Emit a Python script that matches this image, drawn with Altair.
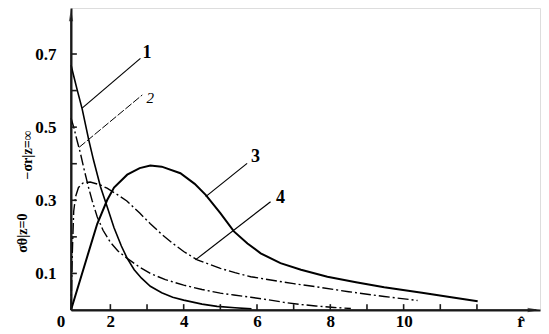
import altair as alt
import pandas as pd

# ---- data ----
r1 = [0.926, 1.0, 1.1, 1.23, 1.41, 1.54, 1.73, 1.91, 2.1, 2.3, 2.46, 2.65, 2.85, 3.09, 3.4, 3.7, 4.0, 4.5, 4.91, 5.4, 5.85]
s1 = [0.67, 0.64, 0.60, 0.55, 0.465, 0.41, 0.337, 0.283, 0.225, 0.175, 0.141, 0.11, 0.087, 0.065, 0.047, 0.035, 0.027, 0.016, 0.010, 0.006, 0.003]

r2 = [0.926, 1.0, 1.1, 1.18, 1.27, 1.4, 1.5, 1.64, 1.8, 2.0, 2.2, 2.46, 2.8, 3.09, 3.5, 4.0, 4.5, 5.0, 5.37, 5.83, 6.3, 6.73, 7.2, 7.6, 8.1, 8.56]
s2 = [0.525, 0.50, 0.46, 0.43, 0.39, 0.337, 0.30, 0.255, 0.218, 0.185, 0.162, 0.141, 0.117, 0.10, 0.083, 0.068, 0.056, 0.046, 0.041, 0.035, 0.028, 0.021, 0.015, 0.011, 0.007, 0.004]

r3 = [0.926, 1.32, 1.64, 1.91, 2.1, 2.46, 2.8, 3.09, 3.4, 3.91, 4.3, 4.6, 5.0, 5.37, 5.74, 6.1, 6.64, 7.2, 7.92, 8.7, 9.47, 10.5, 11.3, 12.02]
s3 = [0.0, 0.13, 0.235, 0.30, 0.335, 0.37, 0.388, 0.395, 0.392, 0.374, 0.345, 0.315, 0.265, 0.215, 0.182, 0.155, 0.128, 0.11, 0.091, 0.076, 0.062, 0.047, 0.035, 0.024]

r4 = [0.926, 0.96, 1.0, 1.05, 1.13, 1.25, 1.45, 1.7, 1.91, 2.2, 2.45, 2.8, 3.09, 3.4, 3.73, 4.0, 4.37, 5.0, 5.4, 5.83, 6.5, 7.0, 7.65, 8.5, 9.47, 10.38]
s4 = [0.0, 0.15, 0.27, 0.31, 0.335, 0.347, 0.35, 0.343, 0.333, 0.315, 0.298, 0.265, 0.236, 0.207, 0.18, 0.16, 0.137, 0.114, 0.102, 0.091, 0.080, 0.072, 0.063, 0.05, 0.037, 0.026]

x_tick_labels = [2, 4, 6, 8, 10]
x_minor_ticks = [2, 3, 4, 5, 6, 7, 8, 9, 10, 11, 12]
y_tick_labels = [0.1, 0.3, 0.5, 0.7]
y_minor_ticks = [0.1, 0.2, 0.3, 0.4, 0.5, 0.6, 0.7]

curve_names = ["1", "2", "3", "4"]
label_x = [3.00, 3.09, 5.96, 6.64]
label_y = [0.703, 0.58, 0.418, 0.306]
lead_x = [1.23, 1.15, 4.60, 4.32]
lead_y = [0.552, 0.445, 0.31, 0.137]
lead_x2 = [2.82, 2.87, 5.73, 6.37]
lead_y2 = [0.688, 0.588, 0.401, 0.296]

X0, XMAX, YMAX = 0.926, 13.72, 0.8258
SERIF = "Liberation Serif"
INK = "#1a1a1a"

xscale = alt.Scale(domain=[X0, XMAX], nice=False, zero=False)
yscale = alt.Scale(domain=[0, YMAX], nice=False, zero=False)
X = alt.X("x:Q", scale=xscale,
          axis=alt.Axis(values=x_tick_labels, domain=True, domainColor=INK, domainWidth=1.8,
                        ticks=False, grid=False, title=None,
                        labelFont=SERIF, labelFontSize=17, labelFontWeight="bold", labelColor="black",
                        labelPadding=3, labelFlush=False, labelOverlap=False))
Y = alt.Y("y:Q", scale=yscale,
          axis=alt.Axis(values=y_tick_labels, format=".1f", domain=True, domainColor=INK, domainWidth=2,
                        ticks=False, grid=False, title=None,
                        labelFont=SERIF, labelFontSize=17, labelFontWeight="bold", labelColor="black",
                        labelPadding=15, labelOverlap=False))


def curve(xs, ys, width, dash=None):
    df = pd.DataFrame({"x": xs, "y": ys})
    if dash:
        return alt.Chart(df).mark_line(color="black", strokeWidth=width, strokeDash=dash).encode(x=X, y=Y)
    return alt.Chart(df).mark_line(color="black", strokeWidth=width).encode(x=X, y=Y)


dashdot = [11, 3, 2, 3]
c1 = curve(r1, s1, 1.6)
c2 = curve(r2, s2, 1.4, dashdot)
c3 = curve(r3, s3, 2.0)
c4 = curve(r4, s4, 1.4, dashdot)

# leaders (1, 3, 4 solid; 2 dashed) and curve labels
solid_idx = [0, 2, 3]
lead_df = pd.DataFrame({"x": [lead_x[i] for i in solid_idx], "y": [lead_y[i] for i in solid_idx],
                        "x2": [lead_x2[i] for i in solid_idx], "y2": [lead_y2[i] for i in solid_idx]})
leaders = alt.Chart(lead_df).mark_rule(color="black", strokeWidth=1.2).encode(
    x=X, y=Y, x2="x2:Q", y2="y2:Q")
lead2_df = pd.DataFrame({"x": [lead_x[1]], "y": [lead_y[1]], "x2": [lead_x2[1]], "y2": [lead_y2[1]]})
leader2 = alt.Chart(lead2_df).mark_rule(color="black", strokeWidth=1.0, strokeDash=[8, 2]).encode(
    x=X, y=Y, x2="x2:Q", y2="y2:Q")

lab_df = pd.DataFrame({"x": [label_x[i] for i in solid_idx], "y": [label_y[i] for i in solid_idx],
                       "t": [curve_names[i] for i in solid_idx]})
labels = alt.Chart(lab_df).mark_text(
    font=SERIF, fontSize=18, fontWeight="bold", color="black").encode(x=X, y=Y, text="t:N")
lab2_df = pd.DataFrame({"x": [label_x[1]], "y": [label_y[1]], "t": [curve_names[1]]})
label2 = alt.Chart(lab2_df).mark_text(
    font=SERIF, fontSize=15, fontStyle="italic", color="black").encode(x=X, y=Y, text="t:N")

origin = alt.Chart(pd.DataFrame({"x": [X0], "y": [0.0], "t": ["0"]})).mark_text(
    font=SERIF, fontSize=17, fontWeight="bold", color="black", dx=-10, dy=12).encode(x=X, y=Y, text="t:N")
rhat = alt.Chart(pd.DataFrame({"x": [13.2], "y": [0.0], "t": ["r̂"]})).mark_text(
    font=SERIF, fontSize=17, fontWeight="bold", color="black", dy=12).encode(x=X, y=Y, text="t:N")

ytitle_df = pd.DataFrame({"x": [-0.37, -0.25], "y": [0.21, 0.424], "t": ["σθ|z=0", "−σr|z=∞"]})
ytitle = alt.Chart(ytitle_df).mark_text(
    font=SERIF, fontSize=14, fontWeight="bold", color="black", angle=270).encode(x=X, y=Y, text="t:N")

# axis lines and inward ticks, drawn last
seg_x = [X0, X0] + x_minor_ticks + [X0] * len(y_minor_ticks)
seg_y = [0.0, 0.0] + [0.0] * len(x_minor_ticks) + y_minor_ticks
seg_x2 = [XMAX - 0.1, X0] + x_minor_ticks + [X0 + 0.16] * len(y_minor_ticks)
seg_y2 = [0.0, 0.80] + [0.016] * len(x_minor_ticks) + y_minor_ticks
seg_df = pd.DataFrame({"x": seg_x, "y": seg_y, "x2": seg_x2, "y2": seg_y2})
frame = alt.Chart(seg_df).mark_rule(color=INK, strokeWidth=1.6).encode(
    x=X, y=Y, x2="x2:Q", y2="y2:Q")

arr_up = alt.Chart(pd.DataFrame({"x": [X0], "y": [0.806]})).mark_point(
    shape="M0,-1L0.35,1L-0.35,1Z", filled=True, color=INK, size=150).encode(x=X, y=Y)
arr_right = alt.Chart(pd.DataFrame({"x": [XMAX - 0.17], "y": [0.0]})).mark_point(
    shape="M1,0L-1,0.35L-1,-0.35Z", filled=True, color=INK, size=150).encode(x=X, y=Y)

chart = alt.layer(
    c1, c2, c3, c4, leaders, leader2, labels, label2, origin, rhat, ytitle, frame, arr_up, arr_right
).properties(
    width=469, height=302,
    padding={"left": 63, "top": 0, "right": 1, "bottom": 22},
    autosize=alt.AutoSizeParams(type="none"),
).configure_view(stroke=None).configure(background="white")

chart.save("out.html", embed_options={"renderer": "svg", "actions": False})
